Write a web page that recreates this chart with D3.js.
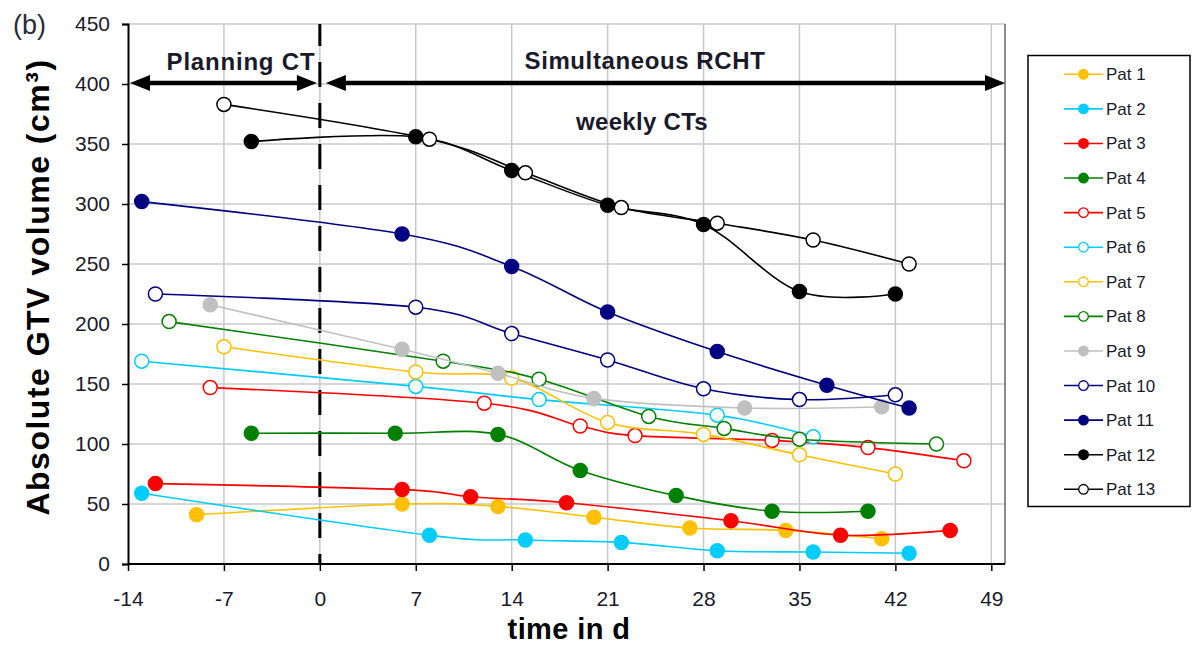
<!DOCTYPE html>
<html>
<head>
<meta charset="utf-8">
<script src="https://cdn.jsdelivr.net/npm/d3@7"></script>
<style>
  body { margin: 0; background: #fff; }
  svg { display: block; }
  text { font-family: "Liberation Sans", Arial, sans-serif; }
</style>
</head>
<body>
<svg id="chart" width="1192" height="645"></svg>
<script>
// GTV volume per patient: [day, volume in cm³]
const pat1  = [[-9, 41], [6, 50], [13, 48], [20, 39], [27, 30], [34, 28], [41, 21]];
const pat2  = [[-13, 59], [8, 24], [15, 20], [22, 18], [29, 11], [36, 10], [43, 9]];
const pat3  = [[-12, 67], [6, 62], [11, 56], [18, 51], [30, 36], [38, 24], [46, 28]];
const pat4  = [[-5, 109], [5.5, 109], [13, 108], [19, 78], [26, 57], [33, 44], [40, 44]];
const pat5  = [[-8, 147], [12, 134], [19, 115], [23, 107], [33, 103], [40, 97], [47, 86]];
const pat6  = [[-13, 169], [7, 148], [16, 137], [29, 124], [36, 106]];
const pat7  = [[-7, 181], [7, 160], [14, 155], [21, 118], [28, 108], [35, 91], [42, 75]];
const pat8  = [[-11, 202], [9, 169], [16, 154], [24, 123], [29.5, 113], [35, 104], [45, 100]];
const pat9  = [[-8, 216], [6, 179], [13, 159], [20, 138], [31, 130], [41, 131]];
const pat10 = [[-12, 225], [7, 214], [14, 192], [21, 170], [28, 146], [35, 137], [42, 141]];
const pat11 = [[-13, 302], [6, 275], [14, 248], [21, 210], [29, 177], [37, 149], [43, 130]];
const pat12 = [[-5, 352], [7, 356], [14, 328], [21, 299], [28, 283], [35, 227], [42, 225]];
const pat13 = [[-7, 383], [8, 354], [15, 326], [22, 297], [29, 284], [36, 270], [43, 250]];

const patientNames = ["Pat 1", "Pat 2", "Pat 3", "Pat 4", "Pat 5", "Pat 6", "Pat 7",
                      "Pat 8", "Pat 9", "Pat 10", "Pat 11", "Pat 12", "Pat 13"];
const patientColors = ["#FFC000", "#00CCFF", "#FF0000", "#008000", "#FF0000", "#00CCFF", "#FFC000",
                       "#008000", "#C0C0C0", "#000080", "#000080", "#000000", "#000000"];
const patientFilled = [true, true, true, true, false, false, false,
                       false, true, false, true, true, false];
const patientData = [pat1, pat2, pat3, pat4, pat5, pat6, pat7, pat8, pat9, pat10, pat11, pat12, pat13];

const xTicks = [-14, -7, 0, 7, 14, 21, 28, 35, 42, 49];
const yTicks = [0, 50, 100, 150, 200, 250, 300, 350, 400, 450];

const series = patientNames.map((name, i) => ({
  name, color: patientColors[i], filled: patientFilled[i], data: patientData[i]
}));

const svg = d3.select("#chart");
const plot = { left: 128, right: 1005, top: 24, bottom: 564 };

const x = d3.scaleLinear().domain([-14, 50]).range([plot.left, plot.right]);
const y = d3.scaleLinear().domain([0, 450]).range([plot.bottom, plot.top]);

// grid
const grid = svg.append("g");
grid.selectAll(".vg").data(xTicks.filter(t => t !== -14)).join("line")
  .attr("x1", d => x(d)).attr("x2", d => x(d))
  .attr("y1", plot.top).attr("y2", plot.bottom)
  .attr("stroke", "#c8c8c8").attr("stroke-width", 1.5);
grid.selectAll(".hg").data(yTicks.filter(t => t !== 0)).join("line")
  .attr("x1", plot.left).attr("x2", plot.right)
  .attr("y1", d => y(d)).attr("y2", d => y(d))
  .attr("stroke", "#c8c8c8").attr("stroke-width", 1.5);
// right frame edge
grid.append("line")
  .attr("x1", plot.right).attr("x2", plot.right)
  .attr("y1", plot.top).attr("y2", plot.bottom)
  .attr("stroke", "#8c8c8c").attr("stroke-width", 2);

// axes (plain hyphen for negative days)
const plainInt = d => String(d);
const xAxis = svg.append("g").attr("transform", `translate(0,${plot.bottom})`)
  .call(d3.axisBottom(x).tickValues(xTicks).tickSize(7).tickPadding(20).tickFormat(plainInt));
const yAxis = svg.append("g").attr("transform", `translate(${plot.left},0)`)
  .call(d3.axisLeft(y).tickValues(yTicks).tickSize(6).tickPadding(12).tickFormat(plainInt));
[xAxis, yAxis].forEach(a => {
  a.select(".domain").attr("stroke", "#000").attr("stroke-width", 2);
  a.selectAll(".tick line").attr("stroke", "#000").attr("stroke-width", 1.5);
  a.selectAll(".tick text").attr("fill", "#1a1a2a").attr("font-size", 21)
    .attr("font-family", '"Liberation Sans", Arial, sans-serif');
});
xAxis.select(".domain").attr("d", `M${plot.left},0H${plot.right}`);

// start of therapy
svg.append("line")
  .attr("x1", x(0)).attr("x2", x(0))
  .attr("y1", plot.top).attr("y2", plot.bottom)
  .attr("stroke", "#000").attr("stroke-width", 3)
  .attr("stroke-dasharray", "25,16").attr("stroke-dashoffset", 3);

// phase arrows
function doubleArrow(x1, x2, yy) {
  const g = svg.append("g");
  const head = 20, half = 8;
  g.append("line").attr("x1", x1 + head - 2).attr("x2", x2 - head + 2)
    .attr("y1", yy).attr("y2", yy).attr("stroke", "#000").attr("stroke-width", 4.5);
  g.append("path").attr("d", `M${x1},${yy}L${x1 + head},${yy - half}L${x1 + head},${yy + half}Z`);
  g.append("path").attr("d", `M${x2},${yy}L${x2 - head},${yy - half}L${x2 - head},${yy + half}Z`);
}
doubleArrow(x(-14) + 2, x(0) - 3, y(400) - 1);
doubleArrow(x(0) + 6, x(50), y(400) - 1);

const label = (tx, ty, str, ls) => svg.append("text")
  .attr("x", tx).attr("y", ty).attr("text-anchor", "middle")
  .attr("font-size", 24).attr("font-weight", "bold").attr("letter-spacing", ls)
  .attr("fill", "#1a1a2a").text(str);
label(241, 70, "Planning CT", 0.8);
label(645, 69, "Simultaneous RCHT", 0.6);
label(642, 130, "weekly CTs", 0.3);

// patient series
const line = d3.line().x(d => x(d[0])).y(d => y(d[1])).curve(d3.curveCardinal.tension(0));
series.forEach(s => {
  const g = svg.append("g");
  g.append("path").attr("d", line(s.data)).attr("fill", "none")
    .attr("stroke", s.color).attr("stroke-width", 1.6);
  g.selectAll("circle").data(s.data).join("circle")
    .attr("cx", d => x(d[0])).attr("cy", d => y(d[1])).attr("r", 7)
    .attr("fill", s.filled ? s.color : "#fff")
    .attr("stroke", s.color).attr("stroke-width", 1.5);
});

// axis titles
svg.append("text").attr("x", 569).attr("y", 639).attr("text-anchor", "middle")
  .attr("font-size", 29).attr("font-weight", "bold").attr("fill", "#000")
  .attr("letter-spacing", 0.4).text("time in d");
svg.append("text").attr("transform", "translate(49,287) rotate(-90)").attr("text-anchor", "middle")
  .attr("font-size", 32).attr("font-weight", "bold").attr("fill", "#000")
  .attr("letter-spacing", 1.5)
  .text("Absolute GTV volume (cm³)");

// panel tag
svg.append("text").attr("x", 13).attr("y", 34)
  .attr("font-family", '"Liberation Serif", "Times New Roman", serif')
  .attr("font-size", 27).attr("fill", "#2a2a3a").text("(b)");

// legend
const legend = svg.append("g");
legend.append("rect").attr("x", 1028).attr("y", 55.5).attr("width", 162).attr("height", 451)
  .attr("fill", "#fff").attr("stroke", "#000").attr("stroke-width", 1.5);
const ly = d3.scalePoint().domain(patientNames).range([74.3, 489.3]);
series.forEach(s => {
  const yy = ly(s.name);
  legend.append("line").attr("x1", 1064).attr("x2", 1103).attr("y1", yy).attr("y2", yy)
    .attr("stroke", s.color).attr("stroke-width", 1.6);
  legend.append("circle").attr("cx", 1083.5).attr("cy", yy).attr("r", 4.8)
    .attr("fill", s.filled ? s.color : "#fff").attr("stroke", s.color).attr("stroke-width", 1.3);
  legend.append("text").attr("x", 1106).attr("y", yy + 6).attr("font-size", 17)
    .attr("fill", "#1a1a2a").text(s.name);
});
</script>
</body>
</html>
